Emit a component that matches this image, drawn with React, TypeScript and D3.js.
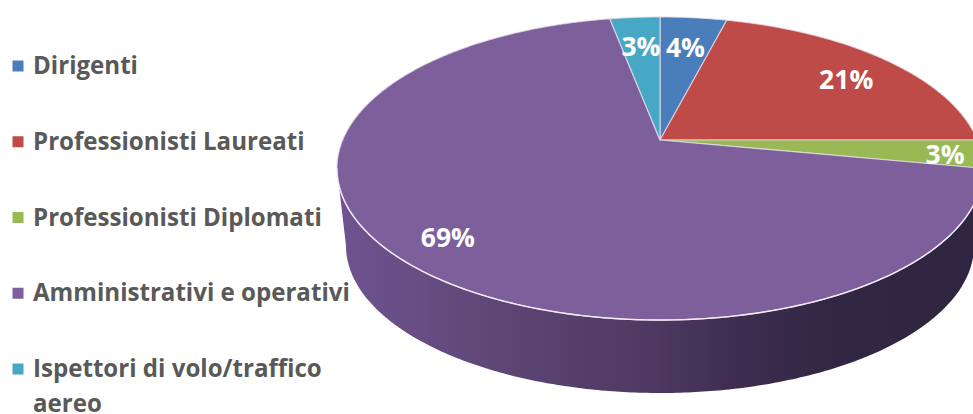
import React from "react";
import * as d3 from "d3";

// Workforce breakdown, one entry per category
const categories = [
  "Dirigenti",
  "Professionisti Laureati",
  "Professionisti Diplomati",
  "Amministrativi e operativi",
  "Ispettori di volo/traffico aereo",
];
const shares = [4, 21, 3, 69, 3];
const colors = ["#4a7ebb", "#be4b48", "#98b954", "#7d5f9c", "#46a8c4"];

// Radial position of each percentage inside its slice, and a small turn in degrees
const labelRadii = [0.727, 0.78, 0.887, 0.84, 0.727];
const labelTurns = [0, 2.5, 1, 0, 0];

const W = 973;
const H = 414;
const apex = { x: 660, y: 140 };
const tilt = { a: 317.3, b: 146.2, k: 0.188 };
const rimDrop = 78;
const rimScale = 0.972;

// Perspective view of the disc: the near side is drawn larger than the far side
function project(theta: number, r = 1, scale = 1, drop = 0): [number, number] {
  const u = Math.sin(theta) * r;
  const v = -Math.cos(theta) * r;
  const w = 1 - tilt.k * v;
  return [
    apex.x + (scale * tilt.a * u) / w,
    apex.y + drop + (scale * tilt.b * v) / w,
  ];
}

const line = d3.line<[number, number]>().curve(d3.curveLinear);

function arcPoints(start: number, end: number, scale = 1, drop = 0): [number, number][] {
  const steps = Math.max(2, Math.ceil(Math.abs(end - start) / 0.01));
  return d3.range(steps + 1).map((i) =>
    project(start + ((end - start) * i) / steps, 1, scale, drop)
  );
}

const sliceAngles = d3.pie<number>().sort(null)(shares);

// Angles at which the top face reaches its right and left extremes
const sweep = d3.range(0, 2 * Math.PI, 0.005);
const rightTheta = sweep[d3.maxIndex(sweep, (t) => project(t)[0])];
const leftTheta = sweep[d3.minIndex(sweep, (t) => project(t)[0])];
const rimRight = sweep[d3.maxIndex(sweep, (t) => project(t, 1, rimScale, rimDrop)[0])];
const rimLeft = sweep[d3.minIndex(sweep, (t) => project(t, 1, rimScale, rimDrop)[0])];

const rimPath =
  line([
    ...arcPoints(rightTheta, leftTheta),
    ...arcPoints(rimLeft, rimRight, rimScale, rimDrop),
  ]) + "Z";

const legendY = d3.scalePoint<number>().domain(d3.range(categories.length)).range([66, 369]);

// Long legend entries wrap before their last word
function legendLines(name: string): string[] {
  if (name.length <= 28) return [name];
  const cut = name.lastIndexOf(" ");
  return [name.slice(0, cut), name.slice(cut + 1)];
}

const rimStops: [number, string][] = [
  [0, "#6e5390"],
  [0.15, "#654c80"],
  [0.3, "#5a4370"],
  [0.48, "#4f3a63"],
  [0.63, "#3e2d50"],
  [0.78, "#322743"],
  [1, "#2e2540"],
];

export default function App() {
  return (
    <svg
      width={W}
      height={H}
      viewBox={`0 0 ${W} ${H}`}
      style={{ position: "absolute", left: 0, top: 0, display: "block", background: "#fff" }}
    >
      <defs>
        <linearGradient id="rim" gradientUnits="userSpaceOnUse" x1={340} x2={973} y1={0} y2={0}>
          {rimStops.map(([o, c]) => (
            <stop key={o} offset={o} stopColor={c} />
          ))}
        </linearGradient>
      </defs>

      <path d={rimPath} fill="url(#rim)" />

      {sliceAngles.map((s, i) => (
        <path
          key={categories[i]}
          d={line([[apex.x, apex.y], ...arcPoints(s.startAngle, s.endAngle)]) + "Z"}
          fill={colors[i]}
          stroke="#e9dfe9"
          strokeOpacity={0.75}
          strokeWidth={1.2}
          strokeLinejoin="round"
        />
      ))}
      <path
        d={line(arcPoints(rightTheta, leftTheta)) ?? ""}
        fill="none"
        stroke="#f3ecf5"
        strokeWidth={1.4}
      />

      {sliceAngles.map((s, i) => {
        const mid = (s.startAngle + s.endAngle) / 2 + (labelTurns[i] * Math.PI) / 180;
        const [x, y] = project(mid, labelRadii[i]);
        return (
          <text
            key={categories[i]}
            x={x}
            y={y}
            dy="0.36em"
            textAnchor="middle"
            fontFamily="'Open Sans', sans-serif"
            fontWeight={700}
            fontSize={26.5}
            fill="#fff"
          >
            {s.data}%
          </text>
        );
      })}

      {categories.map((name, i) => {
        const y = legendY(i) as number;
        return (
          <g key={name}>
            <rect x={12.5} y={y - 5.5} width={11} height={11} fill={colors[i]} />
            {legendLines(name).map((t, j) => (
              <text
                key={t}
                x={33}
                y={y + 8 + j * 34.5}
                fontFamily="'Open Sans', sans-serif"
                fontWeight={700}
                fontSize={24.1}
                fill="#595959"
              >
                {t}
              </text>
            ))}
          </g>
        );
      })}
    </svg>
  );
}
